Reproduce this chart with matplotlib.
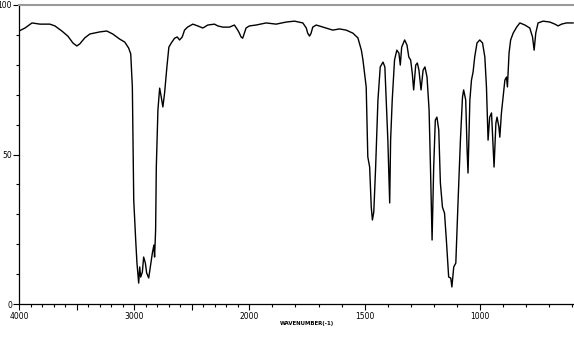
"""
IR spectrum (transmittance vs wavenumber), SDBS style axis:
the scale is doubled below 2000 cm-1.
"""
import numpy as np
import matplotlib
matplotlib.use("Agg")
import matplotlib.pyplot as plt
from matplotlib.ticker import FixedLocator, NullFormatter, FixedFormatter


# wavenumber (cm-1) and transmittance (%)
wavenumber = [
    4000, 3948, 3887, 3818, 3732, 3688, 3628, 3576, 3532, 3498, 3472, 3429,
    3385, 3299, 3238, 3186, 3126, 3082, 3048, 3030, 3016, 3004, 2987, 2976,
    2961, 2952, 2944, 2929, 2918, 2903, 2892, 2874, 2860, 2842, 2829, 2823,
    2814, 2808, 2794, 2779, 2765, 2751, 2736, 2716, 2699, 2678, 2649, 2626,
    2606, 2583, 2563, 2537, 2491, 2448, 2404, 2361, 2303, 2274, 2231, 2173,
    2130, 2101, 2087, 2072, 2058, 2043, 2029, 2000,
    1971, 1927, 1884, 1840, 1804, 1768, 1753, 1747, 1739, 1732, 1725, 1710,
    1681, 1638, 1609, 1580, 1551, 1529, 1514, 1507, 1493, 1486, 1478, 1471,
    1466, 1460, 1452, 1442, 1432, 1420, 1412, 1406, 1399, 1391, 1387, 1380,
    1370, 1360, 1351, 1345, 1339, 1326, 1316, 1308, 1300, 1293, 1287, 1278,
    1271, 1264, 1255, 1246, 1238, 1229, 1220, 1214, 1207, 1200, 1193, 1186,
    1178, 1171, 1162, 1153, 1145, 1135, 1126, 1121, 1113, 1104, 1094, 1084,
    1075, 1070, 1061, 1055, 1051, 1043, 1036, 1029, 1022, 1012, 1000, 988,
    978, 971, 964, 957, 949, 942, 938, 930, 925, 917, 913, 906, 899, 891,
    884, 880, 873, 866, 855, 840, 826, 804, 783, 771, 764, 757, 747, 725,
    696, 674, 660, 645, 624, 595,
]
transmittance = [
    91.3, 92.3, 94.0, 93.6, 93.6, 93.0, 91.3, 89.6, 87.3, 86.3, 87.0, 89.0,
    90.3, 91.0, 91.3, 90.3, 88.6, 87.6, 85.6, 83.6, 72.6, 34.8, 21.4, 13.7,
    7.0, 12.4, 9.0, 10.7, 15.7, 13.7, 10.4, 8.7, 12.4, 17.1, 19.7, 15.7,
    24.7, 45.8, 64.9, 72.2, 69.2, 65.9, 70.6, 79.3, 85.9, 87.3, 88.9, 89.3,
    88.3, 89.3, 91.6, 92.6, 93.6, 93.0, 92.3, 93.3, 93.6, 93.0, 92.6, 92.6,
    93.3, 91.6, 90.6, 89.3, 88.9, 90.6, 92.3, 93.0,
    93.3, 94.0, 93.6, 94.3, 94.6, 94.0, 92.3, 90.6, 89.6, 90.6, 92.6, 93.3,
    92.6, 91.6, 92.0, 91.6, 90.6, 89.0, 84.9, 81.6, 72.6, 49.2, 45.8, 32.4,
    28.1, 30.8, 45.8, 68.2, 79.3, 80.9, 79.3, 68.2, 54.8, 33.8, 54.8, 68.2,
    81.6, 84.9, 83.9, 79.9, 85.9, 88.3, 86.6, 82.6, 81.6, 77.2, 71.6, 79.9,
    80.6, 78.2, 71.6, 78.2, 79.3, 75.9, 64.9, 45.8, 21.4, 45.8, 61.5, 62.5,
    58.2, 40.5, 32.4, 30.4, 21.4, 9.0, 8.7, 5.7, 12.4, 13.7, 34.8, 54.8,
    69.2, 71.6, 68.2, 51.5, 43.8, 68.2, 74.9, 77.6, 82.6, 87.3, 88.3, 87.3,
    82.6, 72.6, 54.8, 62.5, 63.9, 52.5, 45.8, 60.5, 62.5, 59.2, 55.8, 63.9,
    69.2, 74.9, 75.9, 72.6, 83.9, 88.3, 90.6, 92.6, 94.0, 93.3, 92.3, 89.3,
    84.9, 90.6, 94.0, 94.6, 94.3, 93.6, 93.0, 93.6, 94.0, 94.0,
]

x_labeled = [4000, 3000, 2000, 1500, 1000]
x_major = [4000, 3500, 3000, 2500, 2000, 1500, 1000]
y_labels = ["0", "50", "100"]


def forward(wn):
    wn = np.asarray(wn, dtype=float)
    return np.where(wn >= 2000, (wn - 2000) / 1000.0, (wn - 2000) / 500.0)


def inverse(v):
    v = np.asarray(v, dtype=float)
    return np.where(v >= 0, 2000 + 1000.0 * v, 2000 + 500.0 * v)


def main():
    fig = plt.figure(figsize=(5.74, 3.37), dpi=100)
    ax = fig.add_axes([19 / 574, 1 - 304 / 337, 1 - 19 / 574, 299 / 337])

    ax.set_xscale("function", functions=(forward, inverse))
    ax.plot(wavenumber, transmittance, color="black", lw=1.0)
    ax.set_xlim(4000, 591)
    ax.set_ylim(0, 100)

    # x ticks: long every 500, short every 100
    ax.xaxis.set_major_locator(FixedLocator(x_major))
    ax.xaxis.set_minor_locator(FixedLocator(list(range(600, 4000, 100))))
    ax.set_xticklabels([str(w) if w in x_labeled else "" for w in x_major])
    ax.xaxis.set_minor_formatter(NullFormatter())
    ax.tick_params(axis="x", which="major", length=4, width=0.8,
                   labelsize=5.5, pad=2)
    ax.tick_params(axis="x", which="minor", length=2, width=0.8)

    ax.yaxis.set_major_locator(FixedLocator([0, 50, 100]))
    ax.yaxis.set_major_formatter(FixedFormatter(y_labels))
    ax.yaxis.set_minor_locator(FixedLocator(list(range(10, 100, 10))))
    ax.tick_params(axis="y", which="major", length=4, width=0.8,
                   labelsize=5.5, pad=1)
    ax.tick_params(axis="y", which="minor", length=2.5, width=0.8)

    ax.spines["right"].set_visible(False)
    ax.spines["top"].set_color("#999999")
    ax.spines["top"].set_linewidth(1.5)
    ax.spines["left"].set_linewidth(0.9)
    ax.spines["bottom"].set_linewidth(0.9)

    fig.text(280 / 574, 1 - 323 / 337, "WAVENUMBER(-1)", fontsize=3.9,
             ha="left", va="center", fontweight="bold")

    fig.savefig("out.png", dpi=100)


if __name__ == "__main__":
    main()
